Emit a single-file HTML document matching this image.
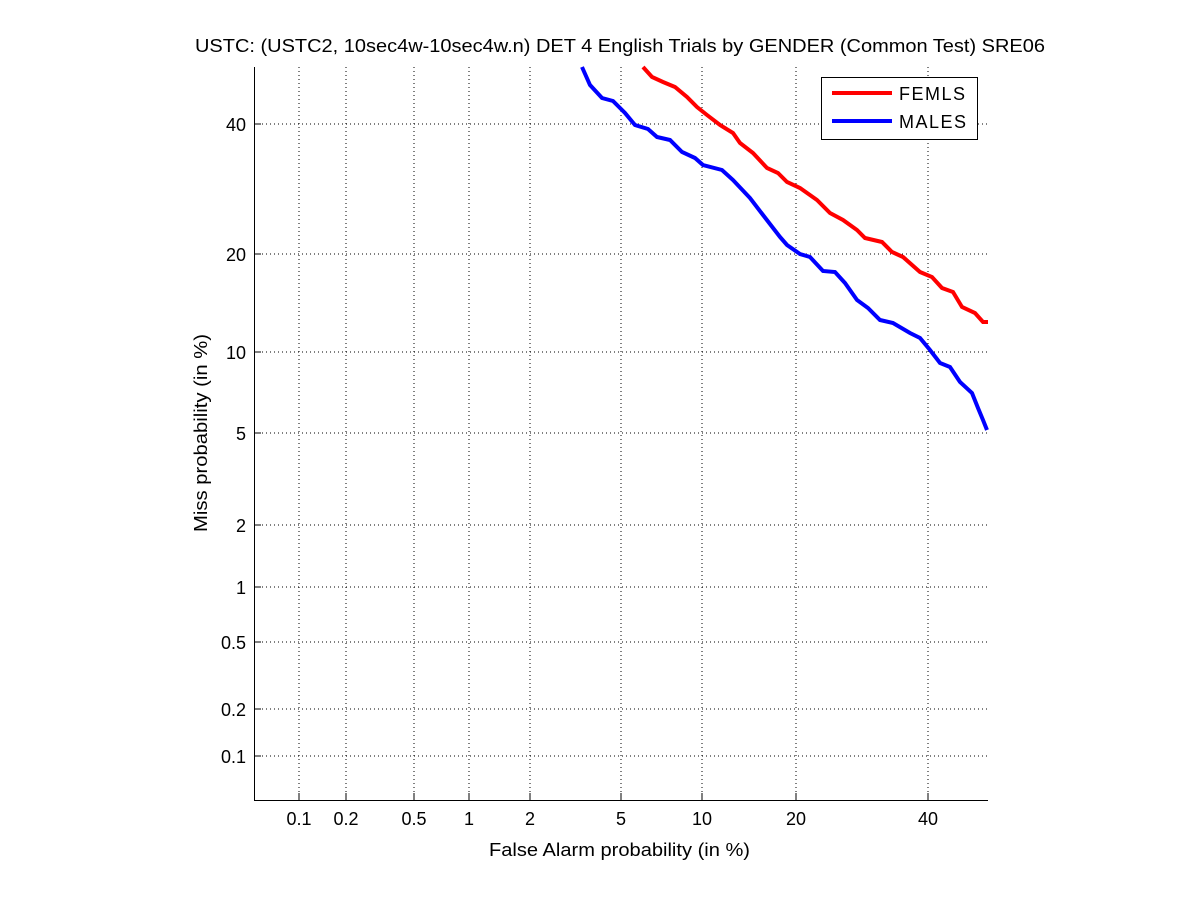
<!DOCTYPE html>
<html><head><meta charset="utf-8"><style>body{margin:0;background:#fff}svg{display:block}text{font-family:"Liberation Sans",sans-serif;font-size:18px;fill:#000}</style></head><body>
<svg width="1201" height="900" viewBox="0 0 1201 900">
<rect width="1201" height="900" fill="#fff"/>
<g stroke="#000" stroke-width="1" stroke-dasharray="1,3">
<line x1="299" y1="67" x2="299" y2="800"/><line x1="346" y1="67" x2="346" y2="800"/><line x1="414" y1="67" x2="414" y2="800"/><line x1="469" y1="67" x2="469" y2="800"/><line x1="530" y1="67" x2="530" y2="800"/><line x1="621" y1="67" x2="621" y2="800"/><line x1="702" y1="67" x2="702" y2="800"/><line x1="796" y1="67" x2="796" y2="800"/><line x1="928" y1="67" x2="928" y2="800"/>
<line x1="254" y1="124" x2="988" y2="124"/><line x1="254" y1="254" x2="988" y2="254"/><line x1="254" y1="352" x2="988" y2="352"/><line x1="254" y1="433" x2="988" y2="433"/><line x1="254" y1="525" x2="988" y2="525"/><line x1="254" y1="587" x2="988" y2="587"/><line x1="254" y1="642" x2="988" y2="642"/><line x1="254" y1="709" x2="988" y2="709"/><line x1="254" y1="756" x2="988" y2="756"/>
</g>
<g stroke="#000" stroke-width="1">
<line x1="254.5" y1="67" x2="254.5" y2="800"/><line x1="254" y1="800.5" x2="988" y2="800.5"/>
<path d="M299 800v-7M346 800v-7M414 800v-7M469 800v-7M530 800v-7M621 800v-7M702 800v-7M796 800v-7M928 800v-7M254 124h7M254 254h7M254 352h7M254 433h7M254 525h7M254 587h7M254 642h7M254 709h7M254 756h7"/>
</g>
<polyline fill="none" stroke="#0000ff" stroke-width="4" points="582,67 590,85 602,98 613,101 625,113 635,125 648,129 657,137 670,140 682,152 695,158 703,165 722,170 733,180 750,198 763,215 780,237 787,245 800,254 810,257 823,271 835,272 845,283 857,300 868,308 880,320 893,323 910,333 920,338 930,350 940,363 950,367 960,382 972,393 978,408 983,420 987,430"/>
<polyline fill="none" stroke="#ff0000" stroke-width="4" points="643,67 652,77 663,82 675,87 687,97 697,107 707,115 720,125 733,133 740,143 753,153 767,168 778,173 787,182 800,188 817,200 830,213 843,220 857,230 865,238 882,242 892,252 903,257 920,272 932,277 942,288 953,292 962,307 975,313 983,322 988,322"/>
<rect x="821.5" y="77.5" width="156" height="62" fill="#fff" stroke="#000"/>
<line x1="832" y1="93" x2="892" y2="93" stroke="#ff0000" stroke-width="4"/>
<line x1="832" y1="121" x2="892" y2="121" stroke="#0000ff" stroke-width="4"/>
<text x="899" y="100" textLength="66">FEMLS</text><text x="899" y="128" textLength="67">MALES</text>
<text x="195" y="52" textLength="850" lengthAdjust="spacingAndGlyphs">USTC: (USTC2, 10sec4w-10sec4w.n) DET 4 English Trials by GENDER (Common Test) SRE06</text>
<g text-anchor="end"><text x="246" y="131">40</text><text x="246" y="261">20</text><text x="246" y="359">10</text><text x="246" y="440">5</text><text x="246" y="532">2</text><text x="246" y="594">1</text><text x="246" y="649">0.5</text><text x="246" y="716">0.2</text><text x="246" y="763">0.1</text></g>
<g text-anchor="middle"><text x="299" y="825">0.1</text><text x="346" y="825">0.2</text><text x="414" y="825">0.5</text><text x="469" y="825">1</text><text x="530" y="825">2</text><text x="621" y="825">5</text><text x="702" y="825">10</text><text x="796" y="825">20</text><text x="928" y="825">40</text></g>
<text x="489" y="856" textLength="261" lengthAdjust="spacingAndGlyphs">False Alarm probability (in %)</text>
<text transform="translate(207,532) rotate(-90)" textLength="198" lengthAdjust="spacingAndGlyphs">Miss probability (in %)</text>
</svg>
</body></html>
